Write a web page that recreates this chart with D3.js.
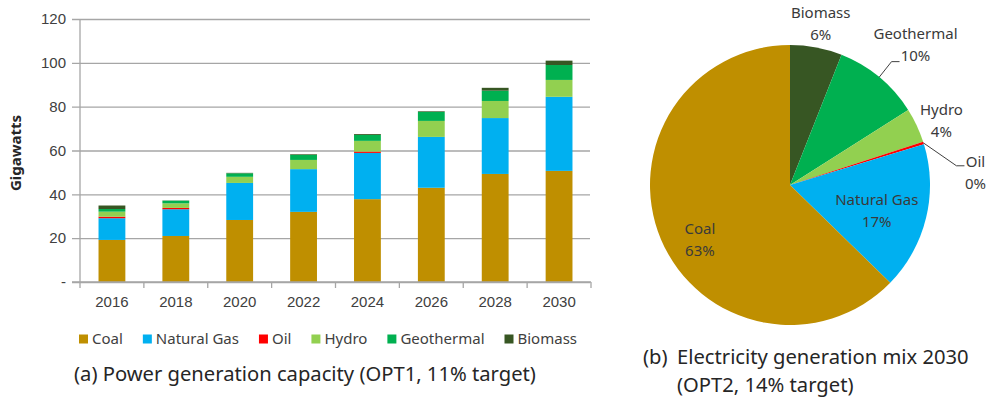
<!DOCTYPE html>
<meta charset="utf-8">
<style>
    body { margin: 0; background: #fff; }
    svg { font-family: "Noto Sans", sans-serif; }
    .grid line { stroke: #a6a6a6; stroke-width: 1.3; }
    .grid path { display: none; }
    .tick text { fill: #404040; font-size: 15px; }
    .pie-label { fill: #3a3a3a; font-size: 15px; }
    .caption { fill: #262626; font-size: 20.2px; }
</style>
<body>
<script src="https://cdn.jsdelivr.net/npm/d3@7"></script>
<script>
    // bar chart data (gigawatts)
    const years = ["2016", "2018", "2020", "2022", "2024", "2026", "2028", "2030"];
    const coal       = [19.2, 21.0, 28.3, 32.0, 37.8, 43.0, 49.3, 50.7];
    const naturalGas = [9.9, 12.2, 16.9, 19.5, 21.1, 23.2, 25.5, 33.8];
    const oil        = [0.7, 0.6, 0, 0, 0.6, 0, 0, 0];
    const hydro      = [2.3, 2.1, 2.8, 4.2, 4.9, 7.3, 7.8, 7.7];
    const geothermal = [1.2, 1.2, 1.6, 2.3, 2.7, 4.1, 4.7, 6.8];
    const biomass    = [1.6, 0.1, 0.2, 0.3, 0.4, 0.3, 1.3, 2.0];
    const yTicks = [0, 20, 40, 60, 80, 100, 120];

    // pie data (share of 2030 generation, %)
    const pieNames  = ["Biomass", "Geothermal", "Hydro", "Oil", "Natural Gas", "Coal"];
    const pieShares = [6, 10, 4, 0.3, 17, 62.7];

    const sources = ["Coal", "Natural Gas", "Oil", "Hydro", "Geothermal", "Biomass"];
    const color = d3.scaleOrdinal()
        .domain(sources)
        .range(["#bf8f00", "#00b0f0", "#ff0000", "#92d050", "#00b050", "#375623"]);

    const svg = d3.select("body").append("svg")
        .attr("width", 989)
        .attr("height", 400);

    // ---------- (a) stacked bars ----------
    const plot = { left: 80, right: 591, top: 19, bottom: 282 };

    const rows = years.map((y, i) => ({
        year: y,
        "Coal": coal[i], "Natural Gas": naturalGas[i], "Oil": oil[i],
        "Hydro": hydro[i], "Geothermal": geothermal[i], "Biomass": biomass[i]
    }));
    const series = d3.stack().keys(sources)(rows);

    const x = d3.scaleBand()
        .domain(years)
        .range([plot.left, plot.right])
        .paddingInner(0.58)
        .paddingOuter(0.29);

    const y = d3.scaleLinear()
        .domain([0, 120])
        .range([plot.bottom, plot.top]);

    const gY = svg.append("g")
        .attr("class", "grid")
        .attr("transform", "translate(" + plot.left + ",0)")
        .call(d3.axisLeft(y)
            .tickValues(yTicks)
            .tickSize(-(plot.right - plot.left - 1))
            .tickPadding(14)
            .tickFormat(d => d === 0 ? "-" : d));
    gY.selectAll(".tick line").attr("x1", -8);

    svg.append("g").selectAll("g")
        .data(series)
        .join("g")
        .attr("fill", d => color(d.key))
        .selectAll("rect")
        .data(d => d)
        .join("rect")
        .attr("x", d => x(d.data.year))
        .attr("width", x.bandwidth())
        .attr("y", d => y(d[1]))
        .attr("height", d => y(d[0]) - y(d[1]));

    // axis lines
    svg.append("line")
        .attr("x1", plot.left).attr("x2", plot.left)
        .attr("y1", y(120)).attr("y2", y(0))
        .attr("stroke", "#a6a6a6").attr("stroke-width", 1.3);
    svg.append("line")
        .attr("x1", plot.left - 8).attr("x2", plot.right)
        .attr("y1", y(0)).attr("y2", y(0))
        .attr("stroke", "#a6a6a6").attr("stroke-width", 1.3);

    // category boundary ticks
    const bounds = years.map(d => x(d) - x.step() * x.paddingInner() / 2).concat([plot.right]);
    svg.append("g").selectAll("line")
        .data(bounds)
        .join("line")
        .attr("x1", d => d).attr("x2", d => d)
        .attr("y1", y(0)).attr("y2", y(0) + 6)
        .attr("stroke", "#a6a6a6").attr("stroke-width", 1.3);

    const gX = svg.append("g")
        .attr("transform", "translate(0," + y(0) + ")")
        .call(d3.axisBottom(x).tickSize(0).tickPadding(14));
    gX.select(".domain").remove();

    svg.append("text")
        .attr("transform", "translate(21,153) rotate(-90)")
        .attr("text-anchor", "middle")
        .attr("font-size", 15)
        .attr("font-weight", "bold")
        .attr("fill", "#262626")
        .text("Gigawatts");

    // legend
    const legend = svg.append("g").attr("transform", "translate(79,339)");
    let lx = 0;
    sources.forEach(s => {
        const item = legend.append("g").attr("transform", "translate(" + lx + ",0)");
        item.append("rect")
            .attr("x", 0).attr("y", -4.5)
            .attr("width", 9).attr("height", 9)
            .attr("fill", color(s));
        const t = item.append("text")
            .attr("x", 13)
            .attr("dy", "0.35em")
            .attr("font-size", 15)
            .attr("fill", "#404040")
            .text(s);
        lx += 13 + t.node().getComputedTextLength() + 20;
    });

    svg.append("text")
        .attr("class", "caption")
        .attr("x", 74).attr("y", 381)
        .text("(a) Power generation capacity (OPT1, 11% target)");

    // ---------- (b) pie ----------
    const R = 140;
    const pieG = svg.append("g").attr("transform", "translate(790,185)");
    const pieData = pieNames.map((n, i) => ({ name: n, value: pieShares[i] }));
    const arcs = d3.pie().sort(null).value(d => d.value)(pieData);
    const arc = d3.arc().innerRadius(0).outerRadius(R);

    pieG.selectAll("path")
        .data(arcs)
        .join("path")
        .attr("d", arc)
        .attr("fill", d => color(d.data.name));

    const pct = d3.format(".0f");
    const polar = (a, r) => [Math.sin(a) * r, -Math.cos(a) * r];

    // label placement tweaks (Excel-style)
    const inside = ["Natural Gas", "Coal"];
    const nudge = {
        "Geothermal": [21, -14], "Hydro": [3, 6], "Oil": [29, 37],
        "Natural Gas": [-3, 4], "Coal": [-5, 19]
    };
    const leaderEnd = { "Geothermal": [-16, 17], "Oil": [-11, -7] };

    arcs.forEach(d => {
        const name = d.data.name;
        const mid = (d.startAngle + d.endAngle) / 2;
        const p = polar(mid, inside.includes(name) ? R * 0.66 : R + 24);
        const n = nudge[name] || [0, 0];
        const cx = p[0] + n[0], cy = p[1] + n[1];

        if (leaderEnd[name]) {
            const e = leaderEnd[name];
            const s = polar(mid, R);
            const ex = cx + e[0], ey = cy + e[1];
            pieG.append("polyline")
                .attr("points", [s, [ex - 8, ey], [ex, ey]].map(q => q.join(",")).join(" "))
                .attr("fill", "none")
                .attr("stroke", "#404040")
                .attr("stroke-width", 1);
        }

        const t = pieG.append("text")
            .attr("class", "pie-label")
            .attr("text-anchor", "middle");
        t.append("tspan").attr("x", cx).attr("y", cy - 11).attr("dy", "0.35em").text(name);
        t.append("tspan").attr("x", cx).attr("y", cy + 11).attr("dy", "0.35em").text(pct(d.data.value) + "%");
    });

    svg.append("text")
        .attr("class", "caption")
        .attr("x", 643).attr("y", 364)
        .text("(b)");
    svg.append("text")
        .attr("class", "caption")
        .attr("x", 677).attr("y", 364)
        .text("Electricity generation mix 2030");
    svg.append("text")
        .attr("class", "caption")
        .attr("x", 677).attr("y", 392)
        .text("(OPT2, 14% target)");
</script>
</body>
</html>
